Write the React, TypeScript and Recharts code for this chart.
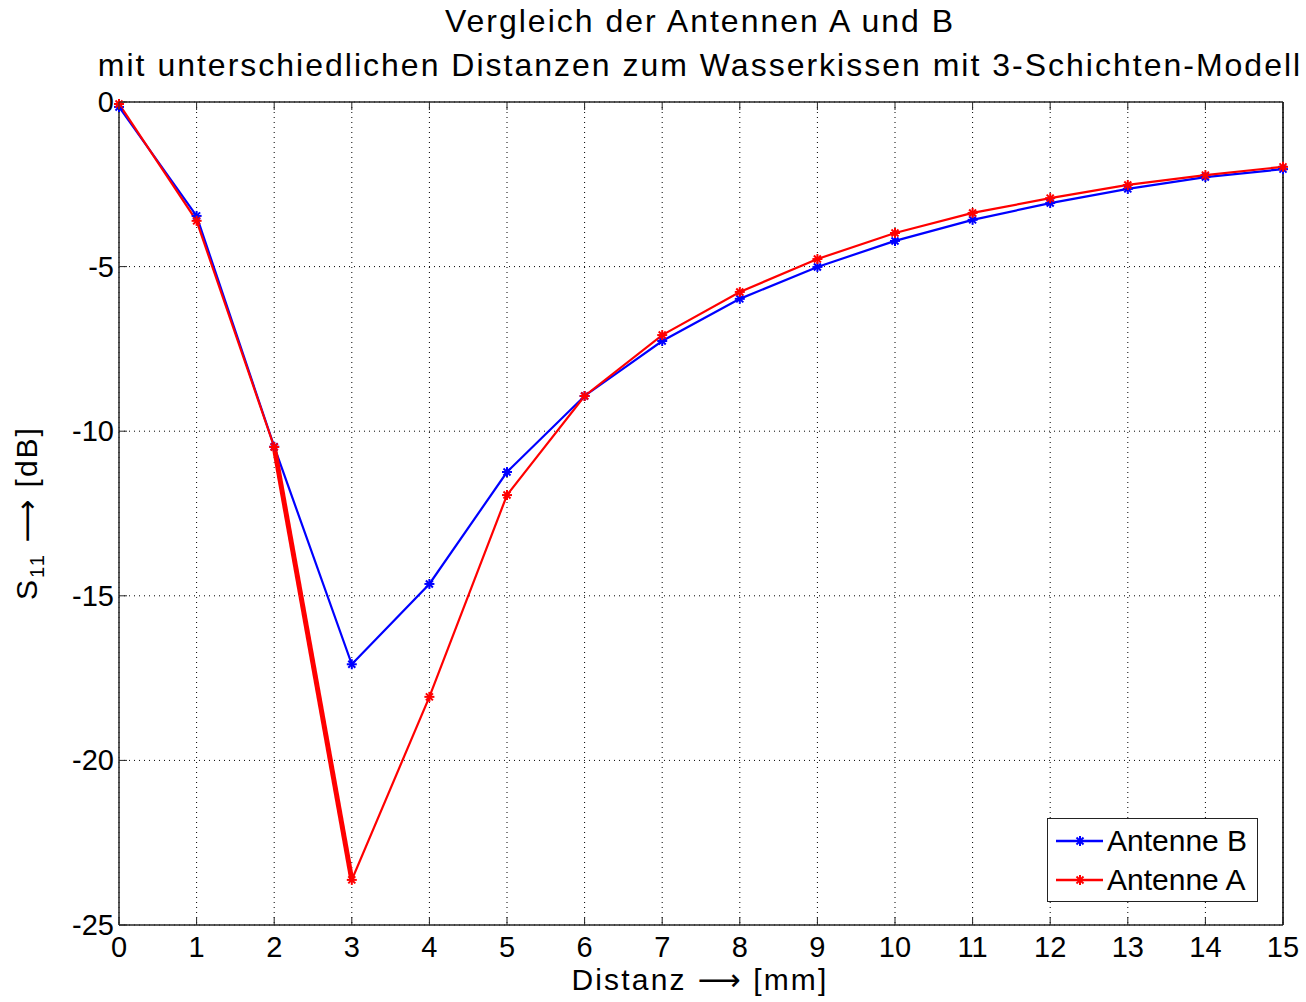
import React from "react";
import { LineChart, Line, XAxis, YAxis, CartesianGrid, Legend } from "recharts";

// S11 over distance to the water cushion, 3-layer model
const distances = [0, 1, 2, 3, 4, 5, 6, 7, 8, 9, 10, 11, 12, 13, 14, 15];
const antenneB = [-0.15, -3.46, -10.47, -17.08, -14.64, -11.24, -8.93, -7.26, -5.98, -5.01, -4.22, -3.58, -3.07, -2.64, -2.28, -2.04];
const antenneA = [-0.06, -3.61, -10.48, -23.63, -18.07, -11.94, -8.93, -7.08, -5.77, -4.77, -3.98, -3.37, -2.92, -2.52, -2.22, -1.97];
const xTicks = [0, 1, 2, 3, 4, 5, 6, 7, 8, 9, 10, 11, 12, 13, 14, 15];
const yTicks = [-25, -20, -15, -10, -5, 0];
const legendOrder = ["b", "a"];

const FONT = '"Liberation Sans", Arial, Helvetica, sans-serif';
const BLUE = "#0000ff";
const RED = "#ff0000";
const AXIS = "#262626";

const data = distances.map((d, i) => ({
  d,
  b: antenneB[i],
  a: antenneA[i],
  // the 2 -> 3 mm segment of antenna A is drawn heavier
  a23: i === 2 || i === 3 ? antenneA[i] : null,
}));

// matlab-style "*" marker
const Star = (props: any) => {
  const { cx, cy, stroke } = props;
  if (cx == null || cy == null) return null;
  const r = 5;
  const k = r * 0.7;
  return (
    <g stroke={stroke} strokeWidth={2}>
      <line x1={cx - r} y1={cy} x2={cx + r} y2={cy} />
      <line x1={cx} y1={cy - r} x2={cx} y2={cy + r} />
      <line x1={cx - k} y1={cy - k} x2={cx + k} y2={cy + k} />
      <line x1={cx - k} y1={cy + k} x2={cx + k} y2={cy - k} />
    </g>
  );
};

const BottomTick = ({ x, y, payload }: any) => (
  <g>
    <line x1={x} y1={y} x2={x} y2={y - 8} stroke={AXIS} />
    <text x={x} y={y + 32} textAnchor="middle" fontSize={29} fontFamily={FONT} fill="#000">
      {payload.value}
    </text>
  </g>
);

const TopTick = ({ x, y }: any) => <line x1={x} y1={y} x2={x} y2={y + 8} stroke={AXIS} />;

const LeftTick = ({ x, y, payload }: any) => (
  <g>
    <line x1={x} y1={y} x2={x + 8} y2={y} stroke={AXIS} />
    <text x={x - 5} y={y + 10} textAnchor="end" fontSize={29} fontFamily={FONT} fill="#000">
      {payload.value}
    </text>
  </g>
);

const RightTick = ({ x, y }: any) => <line x1={x} y1={y} x2={x - 8} y2={y} stroke={AXIS} />;

const LegendBox = ({ payload }: any) => {
  const items = legendOrder
    .map((k) => (payload || []).find((p: any) => p.dataKey === k))
    .filter(Boolean);
  return (
    <div
      style={{
        border: "1.5px solid #222",
        background: "#fff",
        padding: "2px 6px 2px 7px",
        fontFamily: FONT,
        fontSize: 30,
        lineHeight: "39px",
      }}
    >
      {items.map((p: any) => (
        <div key={p.value} style={{ display: "flex", alignItems: "center" }}>
          <svg width={50} height={20} style={{ marginRight: 2 }}>
            <line x1={1} y1={10} x2={48} y2={10} stroke={p.color} strokeWidth={2.5} />
            <Star cx={25} cy={10} stroke={p.color} />
          </svg>
          <span>{p.value}</span>
        </div>
      ))}
    </div>
  );
};

export default function App() {
  return (
    <div style={{ position: "absolute", left: 0, top: 0, width: 1306, height: 1002, background: "#fff", fontFamily: FONT }}>
      <LineChart width={1306} height={1002} data={data} margin={{ top: 100, right: 21, bottom: 37, left: 59 }}>
        <CartesianGrid stroke="#000" strokeDasharray="1 4" strokeWidth={1} xAxisId="bottom" yAxisId="left" />
        <XAxis
          xAxisId="bottom"
          dataKey="d"
          type="number"
          domain={[0, 15]}
          ticks={xTicks}
          height={40}
          tickSize={0}
          tickMargin={0}
          tickLine={false}
          axisLine={{ stroke: AXIS, strokeWidth: 1.5 }}
          tick={<BottomTick />}
          interval={0}
        />
        <XAxis
          xAxisId="top"
          orientation="top"
          dataKey="d"
          type="number"
          domain={[0, 15]}
          ticks={xTicks}
          height={2}
          tickSize={0}
          tickMargin={0}
          tickLine={false}
          axisLine={{ stroke: AXIS, strokeWidth: 1.5 }}
          tick={<TopTick />}
          interval={0}
        />
        <YAxis
          yAxisId="left"
          type="number"
          domain={[-25, 0]}
          ticks={yTicks}
          width={60}
          tickSize={0}
          tickMargin={0}
          tickLine={false}
          axisLine={{ stroke: AXIS, strokeWidth: 1.5 }}
          tick={<LeftTick />}
          interval={0}
        />
        <YAxis
          yAxisId="right"
          orientation="right"
          type="number"
          domain={[-25, 0]}
          ticks={yTicks}
          width={2}
          tickSize={0}
          tickMargin={0}
          tickLine={false}
          axisLine={{ stroke: "#000", strokeWidth: 1.5 }}
          tick={<RightTick />}
          interval={0}
        />
        <Line
          xAxisId="bottom"
          yAxisId="left"
          dataKey="b"
          name="Antenne B"
          type="linear"
          stroke={BLUE}
          strokeWidth={2.2}
          dot={<Star />}
          activeDot={false}
          isAnimationActive={false}
        />
        <Line
          xAxisId="bottom"
          yAxisId="left"
          dataKey="a"
          name="Antenne A"
          type="linear"
          stroke={RED}
          strokeWidth={2.2}
          dot={<Star />}
          activeDot={false}
          isAnimationActive={false}
        />
        <Line
          xAxisId="bottom"
          yAxisId="left"
          dataKey="a23"
          name="a23"
          type="linear"
          stroke={RED}
          strokeWidth={5}
          dot={false}
          activeDot={false}
          legendType="none"
          connectNulls={false}
          isAnimationActive={false}
        />
        <Legend
          layout="horizontal"
          verticalAlign="middle"
          align="center"
          content={<LegendBox />}
          wrapperStyle={{ left: 1047, top: 818, width: 211 }}
        />
      </LineChart>
      <svg width={1306} height={1002} style={{ position: "absolute", left: 0, top: 0, pointerEvents: "none" }} fontFamily={FONT} fill="#000">
        <text x={700} y={32} textAnchor="middle" fontSize={32} letterSpacing={2}>
          Vergleich der Antennen A und B
        </text>
        <text x={700} y={76} textAnchor="middle" fontSize={32} letterSpacing={2}>
          mit unterschiedlichen Distanzen zum Wasserkissen mit 3-Schichten-Modell
        </text>
        <text x={700} y={990} textAnchor="middle" fontSize={30} letterSpacing={2.2}>
          Distanz <tspan fontFamily="DejaVu Sans" fontSize={30}>⟶</tspan> [mm]
        </text>
        <text transform="translate(37,513) rotate(-90)" textAnchor="middle" fontSize={30} letterSpacing={2}>
          S<tspan dy={7} fontSize={20}>11</tspan>
          <tspan dy={-7}> </tspan>
          <tspan fontFamily="DejaVu Sans" fontSize={30}>⟶</tspan> [dB]
        </text>
      </svg>
    </div>
  );
}
